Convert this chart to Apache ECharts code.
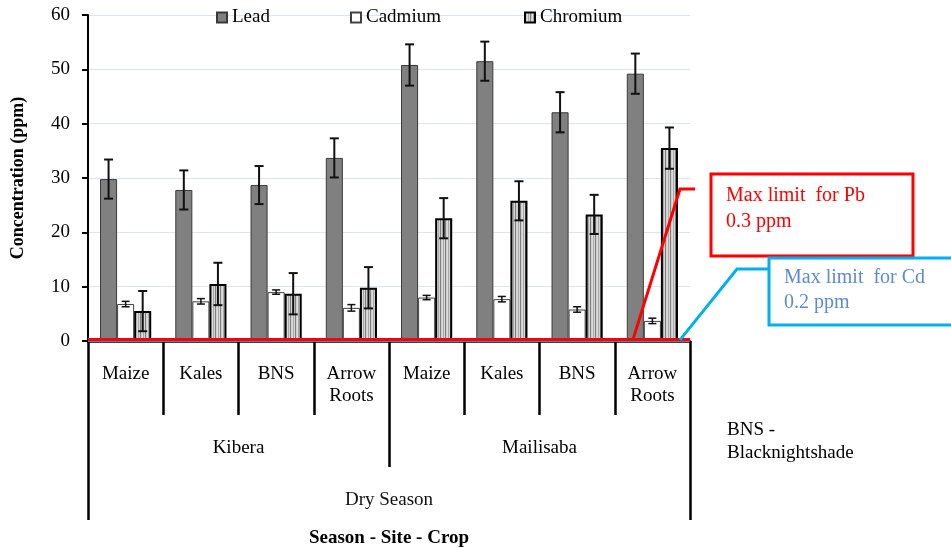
<!DOCTYPE html>
<html>
<head>
<meta charset="utf-8">
<script src="https://cdn.jsdelivr.net/npm/echarts@6/dist/echarts.min.js"></script>
<style>
  html, body { margin: 0; padding: 0; background: #fff; }
  #chart { width: 951px; height: 548px; }
</style>
</head>
<body>
<div id="chart"></div>
<script>
// Heavy metal concentrations (ppm) by season, site and crop
const crops = ['Maize', 'Kales', 'BNS', 'Arrow\nRoots', 'Maize', 'Kales', 'BNS', 'Arrow\nRoots'];
const sites = ['Kibera', 'Mailisaba'];
const seasons = ['Dry Season'];

const lead        = [29.8, 27.8, 28.7, 33.7, 50.8, 51.5, 42.1, 49.2];
const leadErr     = [3.6, 3.6, 3.5, 3.6, 3.8, 3.6, 3.7, 3.7];
const cadmium     = [6.8, 7.3, 9.0, 6.1, 8.0, 7.7, 5.8, 3.7];
const cadmiumErr  = [0.5, 0.5, 0.4, 0.6, 0.4, 0.5, 0.5, 0.5];
const chromium    = [5.5, 10.5, 8.7, 9.8, 22.6, 25.8, 23.3, 35.5];
const chromiumErr = [3.7, 3.9, 3.8, 3.8, 3.7, 3.6, 3.6, 3.8];

const yMin = 0, yMax = 60, yStep = 10;
const pbLimit = 0.3;   // ppm
const cdLimit = 0.2;   // ppm

const SERIF = '"Liberation Serif", "Times New Roman", serif';
const GAP = 0.32;      // share of each category left empty around its bar group

// vertical stripe fill used for the chromium bars
const stripe = document.createElement('canvas');
stripe.width = 5; stripe.height = 4;
(function () {
  const g = stripe.getContext('2d');
  const cols = ['#7e7e7e', '#cfcfcf', '#dcdcdc', '#a8a8a8', '#d6d6d6'];
  cols.forEach((c, i) => { g.fillStyle = c; g.fillRect(i, 0, 1, 4); });
})();

// I-beam error bars placed over the k-th bar of each group
function errorBars(vals, errs, k, capW, lw) {
  return {
    type: 'custom',
    name: 'err' + k,
    z: 6,
    silent: true,
    data: vals.map((v, i) => [i, v - errs[i], v + errs[i]]),
    encode: { x: 0, y: [1, 2] },
    renderItem(params, api) {
      const i = api.value(0);
      const lo = api.coord([i, api.value(1)]);
      const hi = api.coord([i, api.value(2)]);
      const band = api.size([1, 0])[0];
      const bw = band * (1 - GAP) / 3;
      const x = lo[0] + (k - 1) * bw;
      const style = { stroke: '#111', lineWidth: lw };
      return {
        type: 'group',
        children: [
          { type: 'line', shape: { x1: x, y1: hi[1], x2: x, y2: lo[1] }, style },
          { type: 'line', shape: { x1: x - capW / 2, y1: hi[1], x2: x + capW / 2, y2: hi[1] }, style },
          { type: 'line', shape: { x1: x - capW / 2, y1: lo[1], x2: x + capW / 2, y2: lo[1] }, style }
        ]
      };
    }
  };
}

const legendBase = {
  top: 8, padding: 0, itemWidth: 10, itemHeight: 10, itemGap: 5, icon: 'rect',
  textStyle: { fontFamily: SERIF, fontSize: 19, color: '#000' }
};

const chart = echarts.init(document.getElementById('chart'), null, { renderer: 'canvas' });

chart.setOption({
  animation: false,
  backgroundColor: '#fff',
  grid: { left: 88, right: 261, top: 15, bottom: 207, containLabel: false, outerBoundsMode: 'none' },
  legend: [
    Object.assign({}, legendBase, { left: 216, data: ['Lead'] }),
    Object.assign({}, legendBase, { left: 350, data: ['Cadmium'] }),
    Object.assign({}, legendBase, { left: 524, data: ['Chromium'] })
  ],
  xAxis: [
    {
      type: 'category', data: crops, position: 'bottom',
      axisLine: { show: true, lineStyle: { color: '#000', width: 2.5 } },
      axisTick: { show: true, length: 74, lineStyle: { color: '#000', width: 2.5 } },
      axisLabel: { interval: 0, margin: 22, lineHeight: 22, fontFamily: SERIF, fontSize: 19, color: '#000' },
      splitLine: { show: false }
    },
    {
      type: 'category', data: sites, position: 'bottom',
      axisLine: { show: false },
      axisTick: { show: true, length: 126, lineStyle: { color: '#000', width: 2.5 } },
      axisLabel: { interval: 0, margin: 98, fontFamily: SERIF, fontSize: 19, color: '#000' },
      splitLine: { show: false }
    },
    {
      type: 'category', data: seasons, position: 'bottom',
      axisLine: { show: false },
      axisTick: { show: true, length: 179, lineStyle: { color: '#000', width: 2.5 } },
      axisLabel: { interval: 0, margin: 150, fontFamily: SERIF, fontSize: 19, color: '#111' },
      name: 'Season - Site - Crop', nameLocation: 'middle', nameGap: 188,
      nameTextStyle: { fontFamily: SERIF, fontSize: 19, fontWeight: 'bold', color: '#000' },
      splitLine: { show: false }
    }
  ],
  yAxis: {
    type: 'value', min: yMin, max: yMax, interval: yStep,
    name: 'Concentration (ppm)', nameLocation: 'middle', nameGap: 61, nameRotate: 90,
    nameTextStyle: { fontFamily: SERIF, fontSize: 18, fontWeight: 'bold', color: '#000' },
    axisLine: { show: true, lineStyle: { color: '#000', width: 2 } },
    axisTick: { show: true, length: 6, lineStyle: { color: '#000', width: 2 } },
    axisLabel: { margin: 18, fontFamily: SERIF, fontSize: 19, color: '#000' },
    splitLine: { show: true, lineStyle: { color: '#dce6f2', width: 1 } }
  },
  series: [
    {
      name: 'Lead', type: 'bar', data: lead, barGap: '0%', barCategoryGap: (GAP * 100) + '%',
      itemStyle: { color: '#808080', borderColor: '#3a3a3a', borderWidth: 1 },
      markLine: {
        silent: true, symbol: 'none', label: { show: false }, z: 8,
        data: [
          { yAxis: cdLimit, lineStyle: { color: '#4f81bd', width: 3, type: 'solid' } },
          { yAxis: pbLimit, lineStyle: { color: '#ff0000', width: 3, type: 'solid' } }
        ]
      }
    },
    {
      name: 'Cadmium', type: 'bar', data: cadmium,
      itemStyle: { color: '#ffffff', borderColor: '#404040', borderWidth: 1 }
    },
    {
      name: 'Chromium', type: 'bar', data: chromium,
      itemStyle: { color: { image: stripe, repeat: 'repeat' }, borderColor: '#000', borderWidth: 2 }
    },
    errorBars(lead, leadErr, 0, 9, 2),
    errorBars(cadmium, cadmiumErr, 1, 8, 1.5),
    errorBars(chromium, chromiumErr, 2, 9, 2)
  ]
});

// callouts for the permissible limits, anchored on the limit lines
const pbY = chart.convertToPixel({ yAxisIndex: 0 }, pbLimit);
const cdY = chart.convertToPixel({ yAxisIndex: 0 }, cdLimit);
const noteFont = { fontFamily: SERIF, fontSize: 20 };

chart.setOption({
  graphic: [
    { type: 'polyline', z: 20, shape: { points: [[633, pbY], [680, 189], [695, 189]] },
      style: { stroke: '#ff0000', lineWidth: 3, fill: null } },
    { type: 'rect', z: 20, shape: { x: 711, y: 174, width: 202, height: 82 },
      style: { stroke: '#ff0000', lineWidth: 3, fill: '#fff' } },
    { type: 'text', z: 21, left: 726, top: 183,
      style: Object.assign({ text: 'Max limit  for Pb\n0.3 ppm', fill: '#ff0000', lineHeight: 26 }, noteFont) },

    { type: 'polyline', z: 20, shape: { points: [[680, cdY], [737, 269], [768, 269]] },
      style: { stroke: '#00b0f0', lineWidth: 3, fill: null } },
    { type: 'rect', z: 20, shape: { x: 769, y: 258, width: 200, height: 67 },
      style: { stroke: '#00b0f0', lineWidth: 3, fill: '#fff' } },
    { type: 'text', z: 21, left: 784, top: 265,
      style: Object.assign({ text: 'Max limit  for Cd\n0.2 ppm', fill: '#5b8bd4', lineHeight: 25 }, noteFont) },

    { type: 'text', z: 21, left: 727, top: 419,
      style: Object.assign({ text: 'BNS -\nBlacknightshade', fill: '#000', lineHeight: 23, fontSize: 19 }, { fontFamily: SERIF }) }
  ]
});
</script>
</body>
</html>
